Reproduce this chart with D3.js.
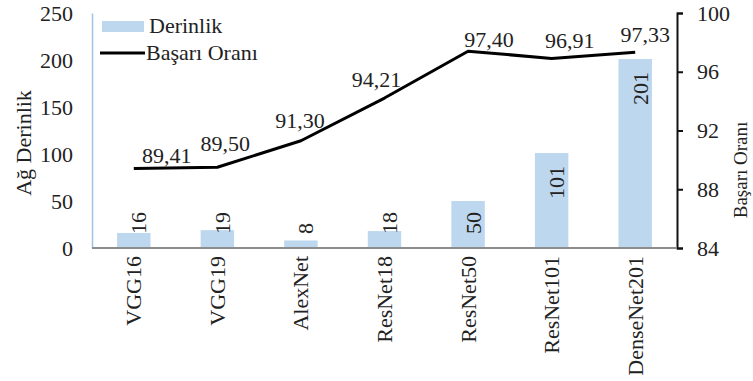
<!DOCTYPE html>
<html>
<head>
<meta charset="utf-8">
<script src="https://cdn.jsdelivr.net/npm/d3@7"></script>
<style>
  html, body { margin: 0; padding: 0; background: #fff; }
  svg { display: block; font-family: "Liberation Serif", "Times New Roman", serif; }
</style>
</head>
<body>
<svg id="chart" width="753" height="381"></svg>
<script>
// Network names, depth (layers) and accuracy (%)
const categories = ["VGG16", "VGG19", "AlexNet", "ResNet18", "ResNet50", "ResNet101", "DenseNet201"];
const depth = [16, 19, 8, 18, 50, 101, 201];
const accuracy = [89.41, 89.50, 91.30, 94.21, 97.40, 96.91, 97.33];
const depthTicks = [0, 50, 100, 150, 200, 250];
const accuracyTicks = [84, 88, 92, 96, 100];

// Hand-placed offsets for the accuracy labels, relative to each point
const labelNudge = [[33, -6], [8, -16], [-1, -13], [-8, -11], [21, -4], [18, -10], [10, -10]];

const svg = d3.select("#chart");
const fontSize = 22;
const barColor = "#bdd7ee";

const plot = { left: 92, right: 677, top: 13, bottom: 248 };

const x = d3.scaleBand()
  .domain(categories)
  .range([plot.left, plot.right])
  .paddingInner(0.6)
  .paddingOuter(0.3);

const yDepth = d3.scaleLinear().domain([0, 250]).range([plot.bottom, plot.top]);
const yAcc = d3.scaleLinear().domain([84, 100]).range([plot.bottom, plot.top]);

const trLocale = d3.formatLocale({ decimal: ",", thousands: ".", grouping: [3], currency: ["", " ₺"] });
const fmt2 = trLocale.format(".2f");

// Bars
svg.append("g").selectAll("rect")
  .data(depth)
  .join("rect")
  .attr("x", (d, i) => x(categories[i]))
  .attr("width", x.bandwidth())
  .attr("y", d => yDepth(d))
  .attr("height", d => yDepth(0) - yDepth(d))
  .attr("fill", barColor);

// Left axis
const leftAxis = svg.append("g")
  .attr("transform", `translate(${plot.left},0)`)
  .call(d3.axisLeft(yDepth).tickValues(depthTicks).tickSize(0).tickPadding(19));
leftAxis.select(".domain").attr("stroke", "#9dc3e6").attr("stroke-width", 1.5);
leftAxis.selectAll("text").attr("font-size", fontSize).attr("fill", "#222").attr("font-family", "Liberation Serif");

// Right axis
const rightAxis = svg.append("g")
  .attr("transform", `translate(${plot.right},0)`)
  .call(d3.axisRight(yAcc).tickValues(accuracyTicks).tickSize(6).tickSizeOuter(6).tickPadding(14));
rightAxis.select(".domain").attr("stroke", "#111").attr("stroke-width", 2);
rightAxis.selectAll(".tick line").attr("stroke", "#111").attr("stroke-width", 2);
rightAxis.selectAll("text").attr("font-size", fontSize).attr("fill", "#222").attr("font-family", "Liberation Serif");

// Category axis along the baseline
const bottomAxis = svg.append("g")
  .attr("transform", `translate(0,${plot.bottom})`)
  .call(d3.axisBottom(x).tickSize(0).tickPadding(0));
bottomAxis.select(".domain").attr("stroke", "#8c8c8c").attr("stroke-width", 2)
  .attr("d", `M${plot.left},0H${plot.right}`);
bottomAxis.selectAll("text")
  .attr("font-size", fontSize)
  .attr("fill", "#222")
  .attr("font-family", "Liberation Serif")
  .attr("text-anchor", "end")
  .attr("dominant-baseline", "central")
  .attr("transform", "translate(0,8) rotate(-90)")
  .attr("x", 0)
  .attr("y", 0)
  .attr("dy", null);

// Bar value labels, rotated, near the inside end of each bar
const barLabels = svg.append("g").selectAll("text")
  .data(depth)
  .join("text")
  .text(d => d)
  .attr("font-size", fontSize)
  .attr("fill", "#222")
  .attr("text-anchor", "end")
  .attr("dominant-baseline", "central");
barLabels.each(function (d, i) {
  const len = this.getComputedTextLength();
  const cx = x(categories[i]) + x.bandwidth() / 2 + 5;
  const endY = Math.min(yDepth(d) + 13, plot.bottom - 14 - len);
  d3.select(this).attr("transform", `translate(${cx},${endY}) rotate(-90)`);
});

// Accuracy line
const line = d3.line()
  .x((d, i) => x(categories[i]) + x.bandwidth() / 2)
  .y(d => yAcc(d));
svg.append("path")
  .datum(accuracy)
  .attr("d", line)
  .attr("fill", "none")
  .attr("stroke", "#000")
  .attr("stroke-width", 3)
  .attr("stroke-linejoin", "round");

// Accuracy labels
svg.append("g").selectAll("text")
  .data(accuracy)
  .join("text")
  .text(d => fmt2(d))
  .attr("font-size", fontSize)
  .attr("fill", "#222")
  .attr("text-anchor", "middle")
  .attr("x", (d, i) => x(categories[i]) + x.bandwidth() / 2 + labelNudge[i][0])
  .attr("y", (d, i) => yAcc(d) + labelNudge[i][1]);

// Axis titles
svg.append("text")
  .text("Ağ Derinlik")
  .attr("font-size", fontSize)
  .attr("fill", "#222")
  .attr("text-anchor", "middle")
  .attr("transform", "translate(31,143) rotate(-90)");

svg.append("text")
  .text("Başarı Oranı")
  .attr("font-size", 19)
  .attr("fill", "#222")
  .attr("text-anchor", "middle")
  .attr("transform", "translate(747,170) rotate(-90)");

// Legend
const legend = svg.append("g");
legend.append("rect")
  .attr("x", 102).attr("y", 21).attr("width", 42).attr("height", 11)
  .attr("fill", barColor);
legend.append("text")
  .text("Derinlik")
  .attr("x", 149).attr("y", 33)
  .attr("font-size", fontSize).attr("fill", "#222");
legend.append("line")
  .attr("x1", 100).attr("x2", 145).attr("y1", 53).attr("y2", 53)
  .attr("stroke", "#000").attr("stroke-width", 3);
legend.append("text")
  .text("Başarı Oranı")
  .attr("x", 146).attr("y", 60)
  .attr("font-size", fontSize).attr("fill", "#222");
</script>
</body>
</html>
